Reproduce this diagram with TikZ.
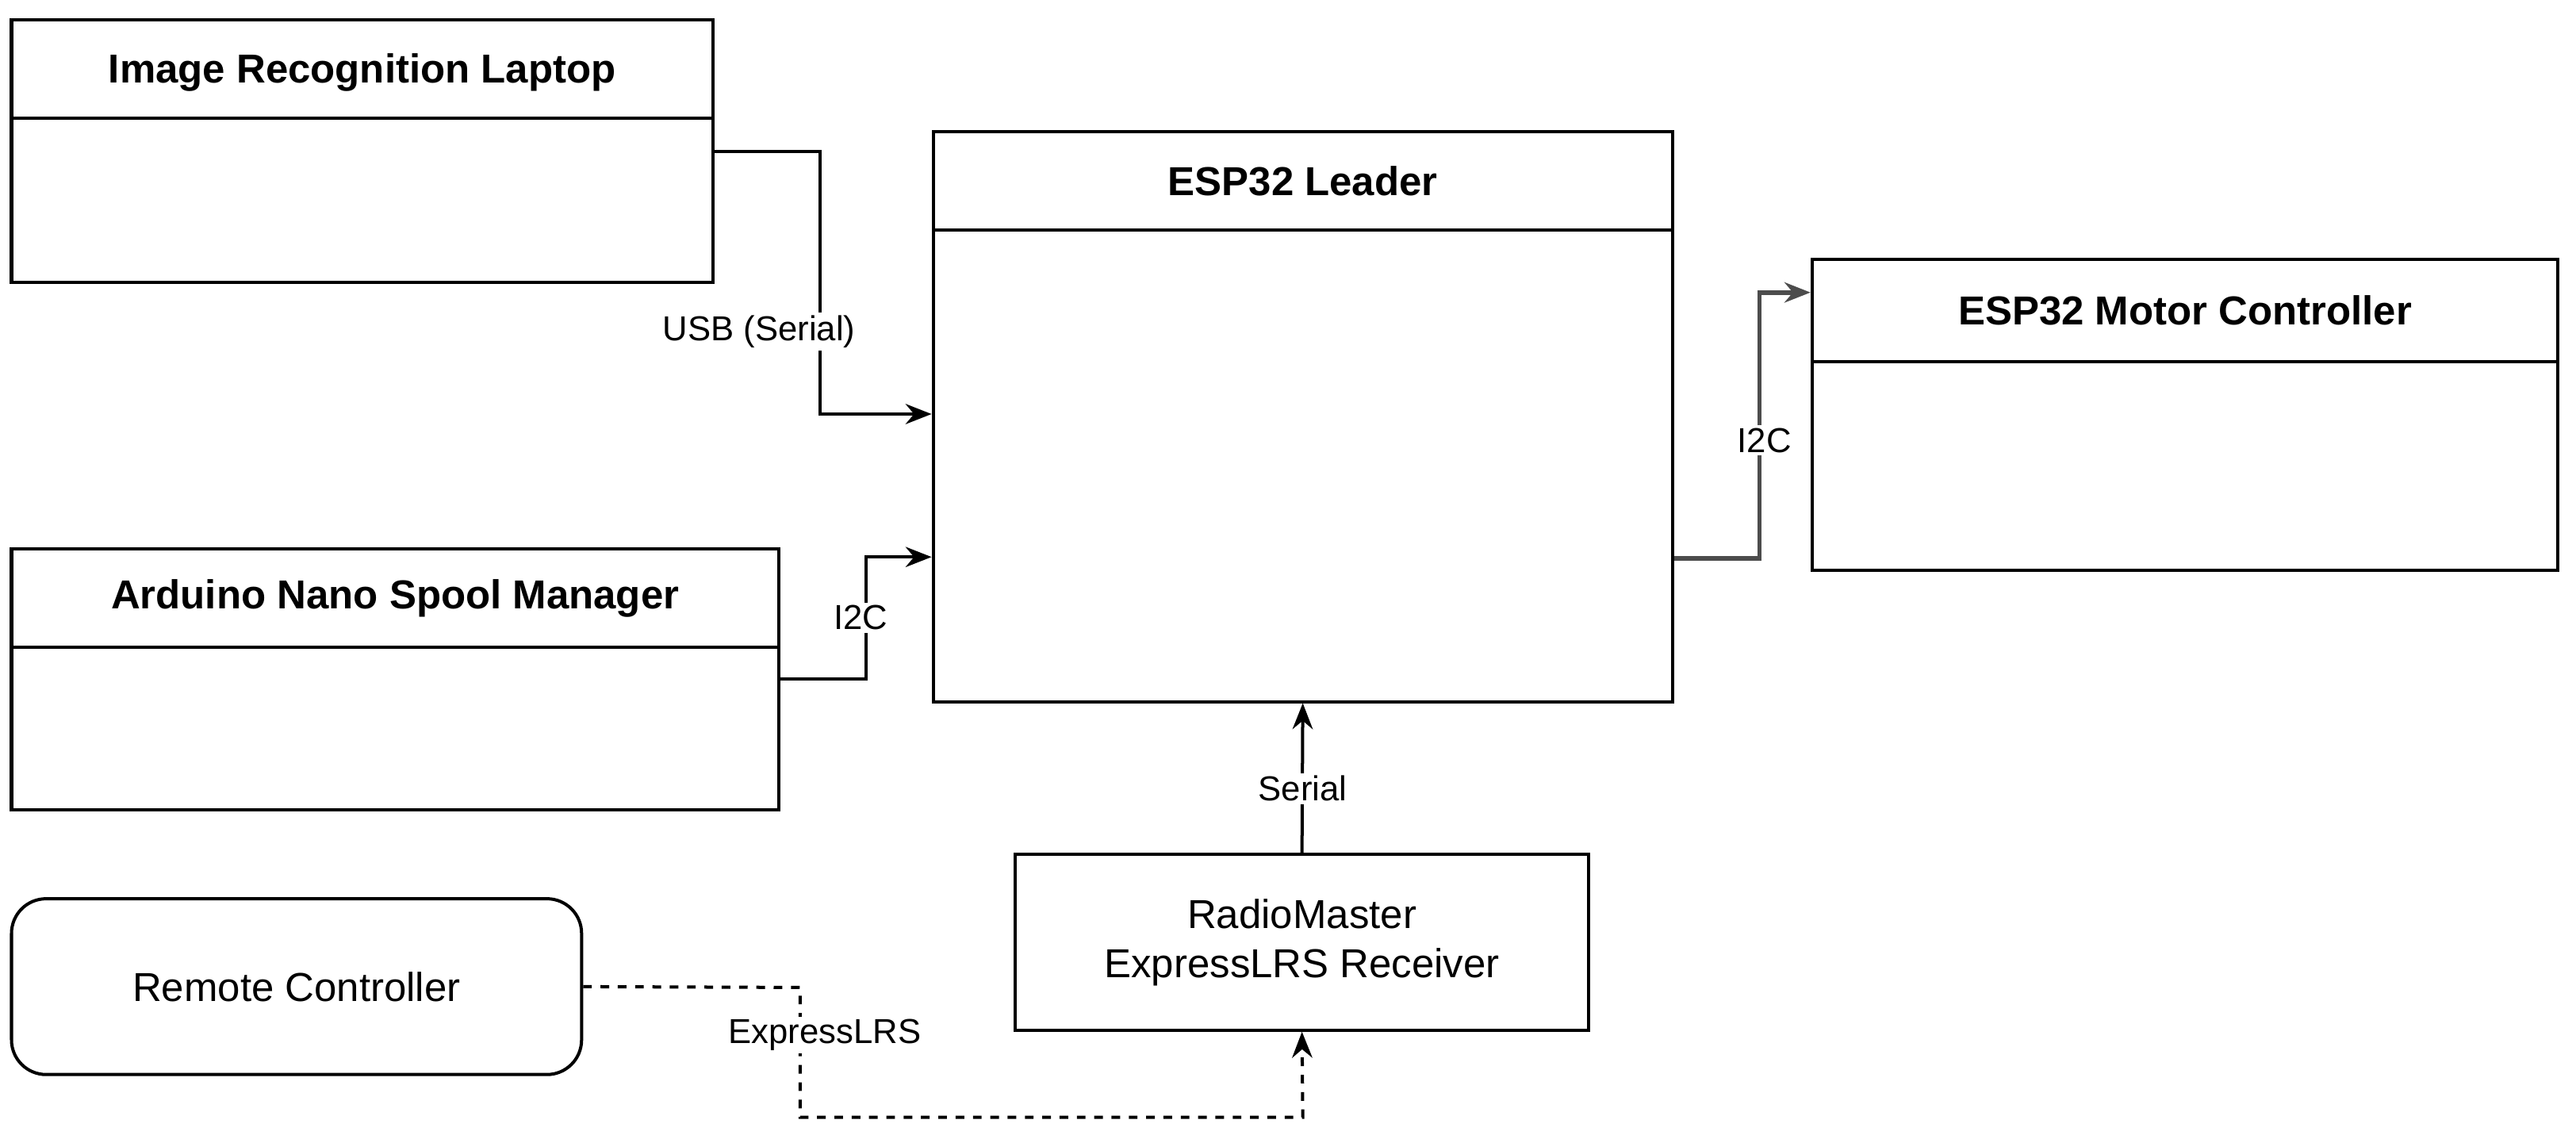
\documentclass[tikz,border=0pt]{standalone}
\usepackage{fontspec}
\setmainfont{Liberation Sans}
\usetikzlibrary{arrows.meta}
\begin{document}
\begin{tikzpicture}[x=0.02cm,y=-0.02cm,
  box/.style={draw,line width=1.1pt,inner sep=0pt},
  ttl/.style={font=\fontsize{14}{16}\selectfont\bfseries},
  lbl/.style={font=\fontsize{12}{14}\selectfont,fill=white,inner sep=1pt},
  con/.style={line width=1.1pt,-{Stealth[length=9pt,width=7pt]}},
  dcon/.style={con,dashed}]
\useasboundingbox (0,0) rectangle (1568,693);
% boxes
\node[box,minimum width=427*0.02cm,minimum height=160*0.02cm] (lap) at (220.5,92) {};
\draw[line width=1.1pt] (7,72) -- (434,72);
\node[ttl] at (220.5,44) {Image Recognition Laptop};
\node[box,minimum width=450*0.02cm,minimum height=347*0.02cm] (lead) at (793,253.5) {};
\draw[line width=1.1pt] (568,140) -- (1018,140);
\node[ttl] at (793,110) {ESP32 Leader};
\node[box,minimum width=454*0.02cm,minimum height=189*0.02cm] (mot) at (1330,252.5) {};
\draw[line width=1.1pt] (1103,220) -- (1557,220);
\node[ttl] at (1330,189) {ESP32 Motor Controller};
\node[box,minimum width=467*0.02cm,minimum height=159*0.02cm] (ard) at (240.5,413.5) {};
\draw[line width=1.1pt] (7,394) -- (474,394);
\node[ttl] at (240.5,364) {Arduino Nano Spool Manager};
\node[box,minimum width=349*0.02cm,minimum height=107*0.02cm,align=center,font=\fontsize{14}{17}\selectfont] (rad) at (792.5,573.5) {RadioMaster\\ExpressLRS Receiver};
\node[box,rounded corners=12pt,minimum width=347*0.02cm,minimum height=107*0.02cm,font=\fontsize{14}{17}\selectfont] (rem) at (180.5,600.5) {Remote Controller};
% connectors
\draw[con] (lap.east|-0,92) -- (499,92) -- (499,252) -- (lead.west|-0,252);
\node[lbl] at (462,202) {USB (Serial)};
\draw[con] (ard.east|-0,413) -- (527,413) -- (527,339) -- (lead.west|-0,339);
\node[lbl] at (524,376) {I2C};
\draw[con,draw=black!70,line width=1.6pt] (lead.east|-0,340) -- (1071,340) -- (1071,178) -- (mot.west|-0,178);
\node[lbl] at (1074,268) {I2C};
\draw[con] (rad.north) -- (lead.south);
\node[lbl] at (793,480) {Serial};
\draw[dcon] (rem.east) -- (487,601) -- (487,680) -- (793,680) -- (rad.south);
\node[lbl] at (502,630) {ExpressLRS};
\end{tikzpicture}
\end{document}
